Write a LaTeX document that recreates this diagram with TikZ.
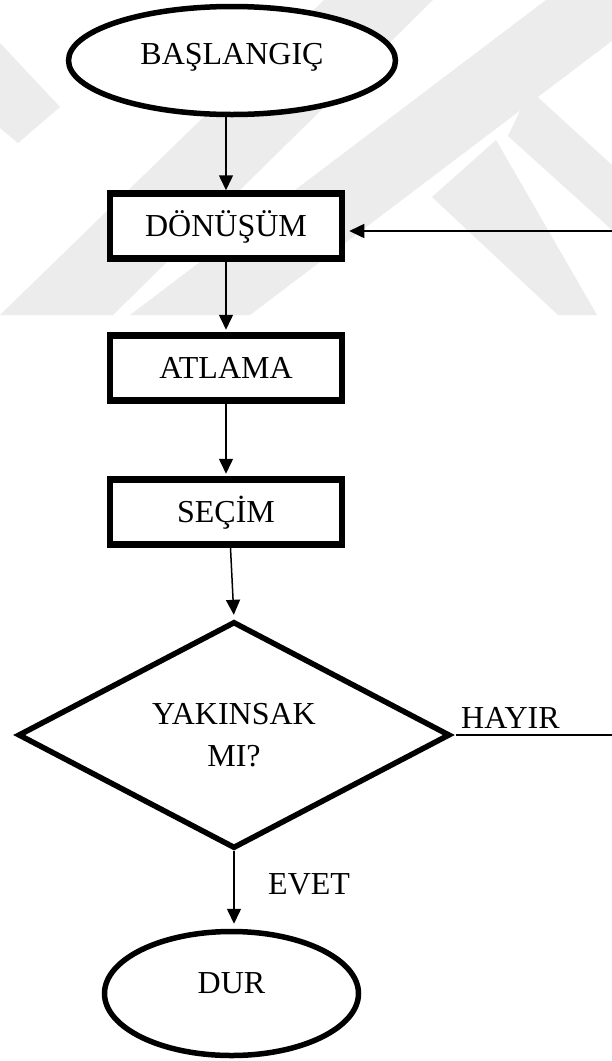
\documentclass[tikz,border=0pt]{standalone}
\usepackage{fontspec}
\setmainfont{Liberation Serif}
\usetikzlibrary{arrows.meta,shapes.geometric}

\definecolor{wmgray}{RGB}{236,236,236}

\tikzset{
  lbl/.style={font=\fontsize{32}{41.7}\selectfont, text height=21pt, text depth=0pt, inner sep=0pt},
  procbox/.style={lbl, draw, line width=6.5pt, fill=white, rectangle,
                  minimum width=232pt, minimum height=65pt},
  terminal/.style={lbl, draw, line width=5.5pt, fill=white, ellipse},
  decision/.style={draw, line width=5.5pt, fill=white, diamond, inner sep=0pt,
                   minimum width=432pt, minimum height=209pt, align=center,
                   font=\fontsize{32}{41.7}\selectfont},
  flow/.style={line width=1.5pt, -{Triangle[length=15pt,width=14pt]}},
  wm/.style={fill=wmgray, draw=none}
}

\begin{document}
\begin{tikzpicture}[x=1pt, y=-1pt]
  \useasboundingbox (0,0) rectangle (612,1061);
  \clip (0,0) rectangle (612,1061);
  \fill[white] (0,0) rectangle (612,1061);

  % light background emblem
  \fill[wm] (0,43) -- (60,107) -- (18,143) -- (0,128) -- cycle;
  \fill[wm] (0,315) -- (113,315) -- (433,0) -- (324,0) -- cycle;
  \fill[wm] (130,315) -- (250,315) -- (666,0) -- (546,0) -- cycle;
  \fill[wm] (496,140) -- (432,197) -- (558,315) -- (597,315) -- cycle;
  \fill[wm] (530,90) -- (612,165) -- (612,230) -- (508,136) -- cycle;

  % flowchart nodes
  \node[terminal, minimum width=327pt, minimum height=108pt, text depth=13pt]
       (start) at (232,60.5) {BAŞLANGIÇ};
  \node[procbox] (trans) at (226,226) {DÖNÜŞÜM};
  \node[procbox] (jump)  at (226,368) {ATLAMA};
  \node[procbox] (sel)   at (226,512) {SEÇİM};
  \node[decision] (conv) at (234,735) {YAKINSAK\\MI?};
  \node[terminal, minimum width=254pt, minimum height=124pt, text depth=21pt]
       (stop) at (231.5,993.5) {DUR};

  % edge labels
  \node[lbl, anchor=base west] (no)  at (461,728.3) {HAYIR};
  \node[lbl, anchor=base west] (yes) at (268,894) {EVET};

  % return path leaves the page on the right
  \coordinate (backR) at (640,735);

  % connectors
  \draw[flow] (start.south -| trans.north) -- (trans.north);
  \draw[flow, shorten >=2.5pt] (trans.south) -- (jump.north);
  \draw[flow, shorten >=2.5pt] (jump.south) -- (sel.north);
  \draw[flow, shorten >=4pt] ([xshift=4.5pt]sel.south) -- (conv.north);
  \draw[flow, shorten >=5pt] (conv.south) -- (conv.south |- stop.north);
  \draw[flow, shorten >=4pt] ([xshift=3pt]conv.east) -- (backR) |- ([yshift=-5pt]trans.east);
\end{tikzpicture}
\end{document}
